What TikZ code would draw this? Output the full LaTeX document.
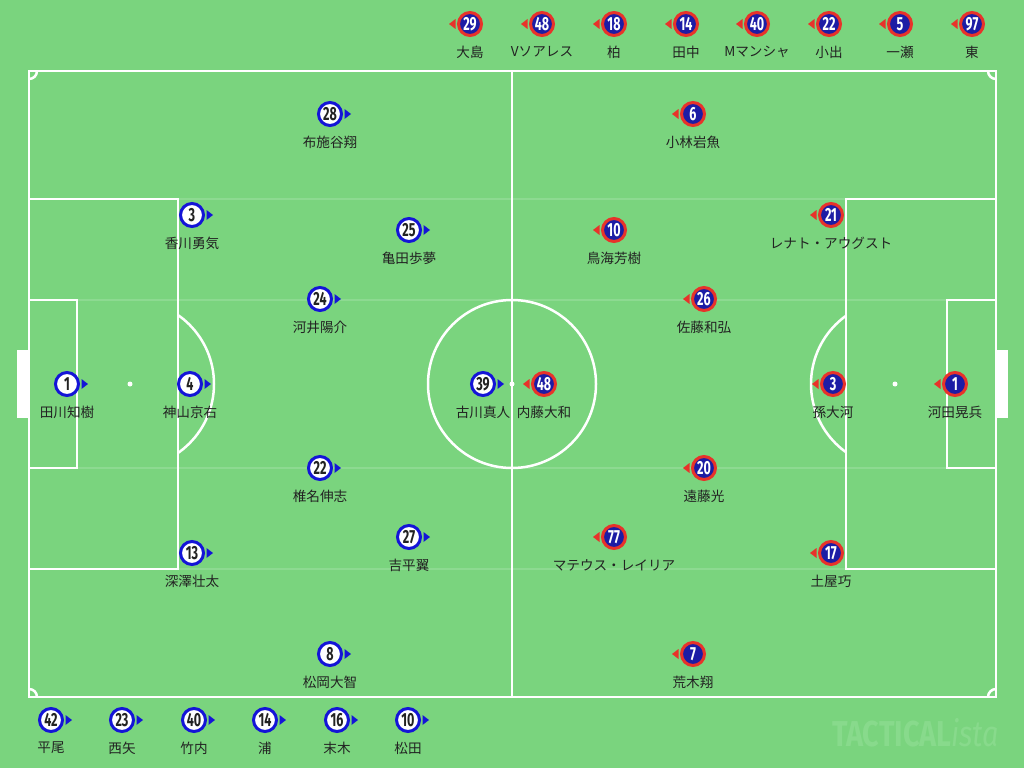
\documentclass[tikz,border=0pt]{standalone}
\usepackage{fontspec}
\setmainfont{Noto Sans CJK JP}
\newfontfamily\numfont[FakeStretch=0.66]{Fira Sans}
\newfontfamily\wmfont[FakeStretch=0.8]{Fira Sans}
\usetikzlibrary{calc}
\definecolor{pitch}{RGB}{122,212,126}
\definecolor{hblue}{RGB}{20,20,215}
\definecolor{anavy}{RGB}{28,28,165}
\definecolor{ared}{RGB}{232,50,42}
\definecolor{ink}{RGB}{34,34,34}
\definecolor{wm}{RGB}{136,218,140}
\tikzset{
  pline/.style={white,line width=2.5pt},
  faint/.style={white,opacity=0.15,line width=1.5pt},
  homec/.style={circle,draw=hblue,fill=white,line width=3pt,minimum size=23pt,inner sep=0pt,text=ink,font=\numfont\bfseries\fontsize{19}{19}\selectfont},
  awayc/.style={circle,draw=ared,fill=anavy,line width=3pt,minimum size=23pt,inner sep=0pt,text=white,font=\numfont\bfseries\fontsize{19}{19}\selectfont},
  namet/.style={text=ink,font=\fontsize{13.6}{14}\selectfont,inner sep=0pt}
}
\newcommand\hp[5]{%
  \node[homec] (#1) at (#2,#3) {#4};
  \fill[hblue] ($(#1.east)+(1.5,-5)$) -- ++(6.5,5) -- ++(-6.5,5) -- cycle;
  \node[namet] (#1n) at (#2,#3+28) {#5};
}
\newcommand\ap[5]{%
  \node[awayc] (#1) at (#2,#3) {#4};
  \fill[ared] ($(#1.west)+(-1.5,-5)$) -- ++(-6.5,5) -- ++(6.5,5) -- cycle;
  \node[namet] (#1n) at (#2,#3+28) {#5};
}
\begin{document}
\begin{tikzpicture}[x=1pt,y=-1pt]
\useasboundingbox (0,0) rectangle (1024,768);
\fill[pitch] (0,0) rectangle (1024,768);
% faint stripes
\foreach \yy in {199,300,468,569} \draw[faint] (29,\yy) -- (996,\yy);
% goals
\fill[white] (17,350) rectangle (29,418);
\fill[white] (996,350) rectangle (1008,418);
% pitch lines
\draw[pline] (29,71) rectangle (996,697);
\draw[pline] (512,71) -- (512,697);
\draw[pline] (512,384) circle (84);
\draw[pline] (29,199) rectangle (178,569);
\draw[pline] (29,300) rectangle (77,468);
\draw[pline] (996,199) rectangle (846,569);
\draw[pline] (996,300) rectangle (947,468);
\fill[white] (512,384) circle (2.5);
\fill[white] (130,384) circle (2.5);
\fill[white] (895,384) circle (2.5);
\begin{scope}
  \clip (178,0) rectangle (300,768);
  \draw[pline] (130,384) circle (84);
\end{scope}
\begin{scope}
  \clip (700,0) rectangle (846,768);
  \draw[pline] (895,384) circle (84);
\end{scope}
\begin{scope}
  \clip (29,71) rectangle (996,697);
  \draw[pline] (29,71) circle (8);
  \draw[pline] (996,71) circle (8);
  \draw[pline] (29,697) circle (8);
  \draw[pline] (996,697) circle (8);
\end{scope}
% home team
\hp{h1}{67}{384}{1}{田川知樹}
\hp{h4}{190}{384}{4}{神山京右}
\hp{h3}{192}{215}{3}{香川勇気}
\hp{h13}{192}{553}{13}{深澤壮太}
\hp{h28}{330}{114}{28}{布施谷翔}
\hp{h25}{409}{230}{25}{亀田歩夢}
\hp{h24}{320}{299}{24}{河井陽介}
\hp{h22}{320}{468}{22}{椎名伸志}
\hp{h27}{409}{537}{27}{吉平翼}
\hp{h8}{330}{654}{8}{松岡大智}
\hp{h39}{483}{384}{39}{古川真人}
% away team
\ap{a6}{693}{114}{6}{小林岩魚}
\ap{a21}{831}{215}{21}{レナト・アウグスト}
\ap{a10}{614}{230}{10}{鳥海芳樹}
\ap{a26}{704}{299}{26}{佐藤和弘}
\ap{a3}{833}{384}{3}{孫大河}
\ap{a1}{955}{384}{1}{河田晃兵}
\ap{a48}{544}{384}{48}{内藤大和}
\ap{a20}{704}{468}{20}{遠藤光}
\ap{a77}{614}{537}{77}{マテウス・レイリア}
\ap{a17}{831}{553}{17}{土屋巧}
\ap{a7}{693}{654}{7}{荒木翔}
% away subs
\ap{as1}{470}{24}{29}{大島}
\ap{as2}{542}{24}{48}{Vソアレス}
\ap{as3}{614}{24}{18}{柏}
\ap{as4}{686}{24}{14}{田中}
\ap{as5}{757}{24}{40}{Mマンシャ}
\ap{as6}{829}{24}{22}{小出}
\ap{as7}{900}{24}{5}{一瀬}
\ap{as8}{972}{24}{97}{東}
% home subs
\hp{hs1}{51}{720}{42}{平尾}
\hp{hs2}{122}{720}{23}{西矢}
\hp{hs3}{194}{720}{40}{竹内}
\hp{hs4}{265}{720}{14}{浦}
\hp{hs5}{337}{720}{16}{末木}
\hp{hs6}{408}{720}{10}{松田}
% watermark
\node[anchor=east,text=wm,inner sep=0pt] (wmk) at (999,733) {\wmfont\fontsize{36}{36}\selectfont\bfseries TACTICAL\mdseries\itshape ista};
\end{tikzpicture}
\end{document}
